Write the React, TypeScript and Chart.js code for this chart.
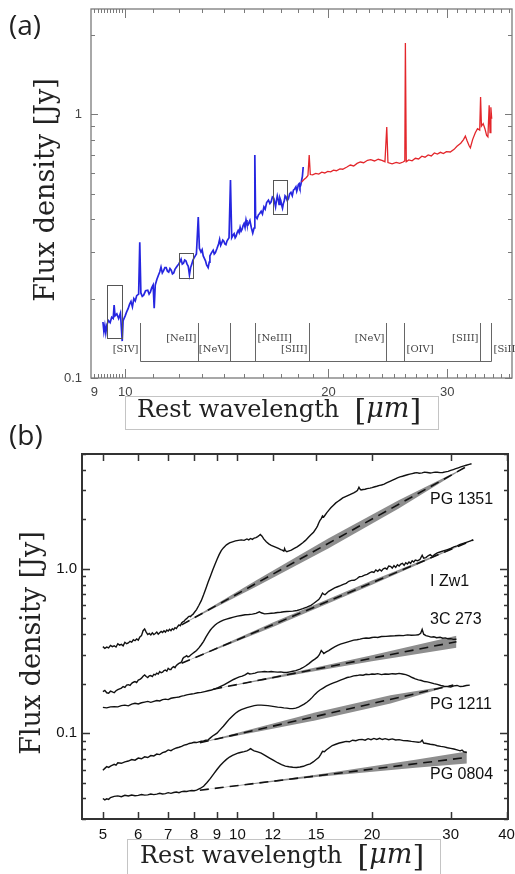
import React, { useEffect, useRef } from 'react';
import { Chart, registerables } from 'chart.js';
Chart.register(...registerables);

// ---------------- Panel (a) data ----------------
const aBlueWl = [9.27, 9.3, 9.33, 9.36, 9.4, 9.45, 9.5, 9.55, 9.6, 9.63, 9.66, 9.72, 9.78, 9.84, 9.9, 9.93, 10.0, 10.05, 10.1, 10.15, 10.2, 10.25, 10.3, 10.35, 10.4, 10.47, 10.51, 10.55, 10.6, 10.65, 10.72, 10.8, 10.85, 10.9, 10.95, 11.0, 11.04, 11.08, 11.14, 11.2, 11.25, 11.3, 11.35, 11.4, 11.45, 11.5, 11.55, 11.6, 11.65, 11.7, 11.75, 11.8, 11.85, 11.9, 11.95, 12.0, 12.05, 12.1, 12.15, 12.2, 12.25, 12.3, 12.35, 12.4, 12.45, 12.5, 12.55, 12.6, 12.65, 12.7, 12.75, 12.83, 12.88, 12.95, 13.0, 13.05, 13.1, 13.15, 13.2, 13.27, 13.32, 13.35, 13.42, 13.5, 13.55, 13.6, 13.68, 13.75, 13.8, 13.85, 13.9, 13.95, 14.0, 14.05, 14.1, 14.15, 14.2, 14.25, 14.32, 14.38, 14.45, 14.5, 14.55, 14.6, 14.65, 14.7, 14.75, 14.8, 14.85, 14.9, 14.95, 15.0, 15.05, 15.1, 15.15, 15.2, 15.25, 15.3, 15.38, 15.45, 15.52, 15.56, 15.6, 15.68, 15.75, 15.82, 15.9, 15.97, 16.05, 16.12, 16.2, 16.3, 16.38, 16.45, 16.52, 16.6, 16.65, 16.7, 16.75, 16.8, 16.85, 16.9, 16.95, 17.0, 17.05, 17.1, 17.15, 17.2, 17.25, 17.3, 17.38, 17.45, 17.52, 17.6, 17.68, 17.75, 17.82, 17.9, 17.95, 18.0, 18.05, 18.1, 18.15, 18.2, 18.25, 18.3, 18.35];
const aBlueFlux = [0.163, 0.15, 0.158, 0.148, 0.16, 0.165, 0.162, 0.17, 0.168, 0.189, 0.172, 0.175, 0.168, 0.176, 0.138, 0.165, 0.172, 0.178, 0.183, 0.19, 0.195, 0.186, 0.2, 0.196, 0.205, 0.208, 0.327, 0.21, 0.204, 0.206, 0.214, 0.215, 0.208, 0.212, 0.22, 0.225, 0.184, 0.225, 0.236, 0.245, 0.252, 0.263, 0.25, 0.255, 0.262, 0.262, 0.254, 0.252, 0.26, 0.256, 0.248, 0.25, 0.258, 0.262, 0.266, 0.27, 0.275, 0.282, 0.27, 0.272, 0.28, 0.278, 0.27, 0.265, 0.246, 0.262, 0.27, 0.28, 0.285, 0.29, 0.295, 0.407, 0.31, 0.3, 0.306, 0.29, 0.284, 0.278, 0.268, 0.262, 0.275, 0.29, 0.298, 0.305, 0.295, 0.298, 0.31, 0.322, 0.335, 0.318, 0.325, 0.333, 0.33, 0.322, 0.32, 0.33, 0.335, 0.34, 0.562, 0.34, 0.348, 0.352, 0.34, 0.345, 0.356, 0.362, 0.355, 0.372, 0.36, 0.366, 0.378, 0.385, 0.372, 0.397, 0.382, 0.38, 0.388, 0.395, 0.37, 0.354, 0.37, 0.7, 0.41, 0.402, 0.415, 0.42, 0.428, 0.418, 0.445, 0.436, 0.462, 0.472, 0.458, 0.465, 0.485, 0.48, 0.462, 0.445, 0.47, 0.49, 0.475, 0.455, 0.48, 0.47, 0.452, 0.44, 0.458, 0.468, 0.49, 0.485, 0.47, 0.478, 0.498, 0.505, 0.49, 0.515, 0.52, 0.53, 0.51, 0.522, 0.54, 0.545, 0.528, 0.538, 0.56, 0.58, 0.63];
const aRedWl = [18.25, 18.4, 18.55, 18.65, 18.73, 18.8, 18.95, 19.15, 19.35, 19.55, 19.75, 19.95, 20.15, 20.35, 20.55, 20.8, 21.0, 21.3, 21.55, 21.8, 22.05, 22.3, 22.55, 22.85, 23.1, 23.4, 23.7, 24.0, 24.25, 24.4, 24.5, 24.85, 25.2, 25.5, 25.8, 25.95, 26.0, 26.08, 26.3, 26.6, 26.9, 27.2, 27.5, 27.8, 28.1, 28.4, 28.7, 29.0, 29.3, 29.6, 29.9, 30.3, 30.7, 31.0, 31.4, 31.7, 31.9, 32.1, 32.3, 32.45, 32.7, 33.0, 33.25, 33.5, 33.6, 33.7, 33.9, 34.1, 34.3, 34.45, 34.6, 34.7, 34.8, 34.9];
const aRedFlux = [0.553, 0.565, 0.575, 0.585, 0.7, 0.59, 0.588, 0.596, 0.592, 0.602, 0.598, 0.606, 0.604, 0.613, 0.61, 0.62, 0.618, 0.63, 0.641, 0.636, 0.65, 0.658, 0.654, 0.668, 0.672, 0.664, 0.674, 0.668, 0.66, 0.893, 0.655, 0.648, 0.656, 0.65, 0.658, 0.665, 1.86, 0.66, 0.67, 0.665, 0.68, 0.676, 0.692, 0.686, 0.7, 0.694, 0.712, 0.705, 0.716, 0.708, 0.72, 0.718, 0.735, 0.755, 0.775, 0.8, 0.825, 0.79, 0.76, 0.745, 0.8, 0.85, 0.88, 0.87, 1.16, 0.9, 0.92, 0.88, 0.83, 0.82, 1.08, 0.85, 1.06, 0.96];
const aLineNames = ['[SIV]', '[NeII]', '[NeV]', '[NeIII]', '[SIII]', '[NeV]', '[OIV]', '[SIII]', '[SiII]'];
const aLineWl = [10.51, 12.81, 14.32, 15.56, 18.71, 24.32, 25.89, 33.48, 34.82];
const aLineSide = ['left', 'left', 'left', 'right', 'left', 'left', 'right', 'left', 'right'];
const aLineRow = [1, 0, 1, 0, 1, 0, 1, 0, 1];
const aBoxWl = [[9.4, 9.9], [12.02, 12.61], [16.57, 17.38]];
const aBoxFlux = [[0.142, 0.225], [0.239, 0.297], [0.418, 0.562]];
const aXTickVals = [9, 10, 20, 30];
const aXTickLabels = ['9', '10', '20', '30'];
const aXMajor = [10, 20, 30];
const aXMinor = [9, 9.1, 9.2, 9.3, 9.4, 9.5, 9.6, 9.7, 9.8, 9.9, 11, 12, 13, 14, 15, 16, 17, 18, 19, 21, 22, 23, 24, 25, 26, 27, 28, 29, 31, 32, 33, 34, 35, 36, 37];
const aYTickVals = [0.1, 1];
const aYTickLabels = ['0.1', '1'];
const aYMinor = [0.2, 0.3, 0.4, 0.5, 0.6, 0.7, 0.8, 0.9, 2];

// ---------------- Panel (b) data ----------------
const bNames = ['PG 1351', 'I Zw1', '3C 273', 'PG 1211', 'PG 0804'];
const pg1351Wl = [5.0, 5.05, 5.1, 5.15, 5.2, 5.25, 5.3, 5.35, 5.4, 5.45, 5.5, 5.55, 5.6, 5.65, 5.7, 5.75, 5.8, 5.85, 5.9, 5.95, 6.0, 6.05, 6.1, 6.15, 6.2, 6.25, 6.3, 6.35, 6.4, 6.45, 6.5, 6.55, 6.6, 6.65, 6.7, 6.75, 6.8, 6.85, 6.9, 6.95, 7.0, 7.05, 7.1, 7.15, 7.2, 7.25, 7.3, 7.35, 7.4, 7.45, 7.5, 7.55, 7.6, 7.65, 7.7, 7.75, 7.8, 7.85, 7.9, 7.95, 8.0, 8.1, 8.2, 8.3, 8.4, 8.5, 8.6, 8.7, 8.8, 8.9, 9.0, 9.1, 9.2, 9.3, 9.45, 9.6, 9.75, 9.9, 10.05, 10.2, 10.35, 10.5, 10.6, 10.7, 10.8, 10.9, 11.0, 11.1, 11.2, 11.25, 11.35, 11.45, 11.6, 11.75, 11.9, 12.05, 12.2, 12.35, 12.5, 12.6, 12.7, 12.75, 12.8, 12.9, 13.0, 13.2, 13.4, 13.6, 13.8, 14.0, 14.2, 14.4, 14.6, 14.8, 15.0, 15.1, 15.2, 15.3, 15.4, 15.5, 15.6, 15.7, 15.85, 16.0, 16.2, 16.4, 16.6, 16.8, 17.0, 17.2, 17.4, 17.6, 17.8, 18.0, 18.2, 18.4, 18.55, 18.7, 18.8, 18.9, 19.1, 19.3, 19.5, 19.8, 20.0, 20.3, 20.5, 20.8, 21.0, 21.3, 21.5, 21.8, 22.0, 22.3, 22.5, 22.8, 23.1, 23.4, 23.7, 24.0, 24.3, 24.6, 24.9, 25.2, 25.5, 25.9, 26.2, 26.6, 27.0, 27.3, 27.7, 28.0, 28.4, 28.8, 29.2, 29.6, 30.0, 30.4, 30.8, 31.2, 31.6, 32.0, 32.5, 33.0, 33.4];
const pg1351Flux = [0.336, 0.328, 0.334, 0.33, 0.342, 0.336, 0.34, 0.334, 0.35, 0.343, 0.347, 0.34, 0.357, 0.35, 0.354, 0.362, 0.358, 0.37, 0.365, 0.374, 0.368, 0.385, 0.392, 0.42, 0.43, 0.412, 0.398, 0.404, 0.396, 0.408, 0.398, 0.404, 0.412, 0.4, 0.408, 0.416, 0.41, 0.42, 0.412, 0.424, 0.418, 0.428, 0.42, 0.432, 0.426, 0.438, 0.433, 0.446, 0.455, 0.45, 0.468, 0.476, 0.48, 0.492, 0.497, 0.508, 0.515, 0.512, 0.522, 0.528, 0.54, 0.565, 0.6, 0.64, 0.695, 0.76, 0.83, 0.9, 0.98, 1.06, 1.14, 1.22, 1.29, 1.34, 1.4, 1.44, 1.46, 1.48, 1.49, 1.5, 1.49, 1.52, 1.5, 1.53, 1.51, 1.54, 1.55, 1.57, 1.6, 1.62, 1.58, 1.52, 1.46, 1.42, 1.39, 1.37, 1.35, 1.33, 1.31, 1.3, 1.28, 1.33, 1.29, 1.27, 1.28, 1.3, 1.33, 1.36, 1.4, 1.44, 1.49, 1.55, 1.61, 1.67, 1.76, 1.82, 1.9, 1.97, 2.02, 2.1, 2.07, 2.12, 2.2, 2.27, 2.36, 2.44, 2.52, 2.58, 2.64, 2.7, 2.74, 2.78, 2.82, 2.86, 2.9, 2.95, 3.0, 3.14, 3.06, 3.02, 3.04, 3.05, 3.08, 3.1, 3.12, 3.16, 3.18, 3.22, 3.24, 3.28, 3.32, 3.38, 3.42, 3.48, 3.52, 3.58, 3.63, 3.66, 3.7, 3.74, 3.77, 3.8, 3.83, 3.85, 3.82, 3.84, 3.88, 3.86, 3.83, 3.85, 3.88, 3.87, 3.85, 3.86, 3.89, 3.92, 3.97, 4.02, 4.07, 4.12, 4.17, 4.22, 4.27, 4.32, 4.36];
const izw1Wl = [5.0, 5.05, 5.1, 5.15, 5.2, 5.25, 5.3, 5.35, 5.4, 5.45, 5.5, 5.55, 5.6, 5.65, 5.7, 5.75, 5.8, 5.85, 5.9, 5.95, 6.0, 6.05, 6.1, 6.15, 6.2, 6.25, 6.3, 6.35, 6.4, 6.45, 6.5, 6.55, 6.6, 6.65, 6.7, 6.75, 6.8, 6.85, 6.9, 6.95, 7.0, 7.05, 7.1, 7.15, 7.2, 7.25, 7.3, 7.35, 7.4, 7.45, 7.5, 7.55, 7.6, 7.65, 7.7, 7.75, 7.8, 7.85, 7.9, 7.95, 8.0, 8.1, 8.2, 8.3, 8.4, 8.5, 8.6, 8.7, 8.8, 8.9, 9.0, 9.15, 9.3, 9.45, 9.6, 9.8, 10.0, 10.2, 10.4, 10.6, 10.8, 11.0, 11.2, 11.3, 11.5, 11.7, 11.9, 12.1, 12.3, 12.5, 12.7, 12.9, 13.1, 13.3, 13.6, 13.8, 14.0, 14.3, 14.6, 14.8, 15.0, 15.2, 15.35, 15.5, 15.6, 15.7, 15.85, 16.0, 16.25, 16.5, 16.75, 17.0, 17.25, 17.5, 17.75, 18.0, 18.25, 18.5, 18.75, 19.0, 19.25, 19.5, 19.75, 20.0, 20.2, 20.4, 20.6, 20.8, 21.0, 21.2, 21.4, 21.6, 21.8, 22.0, 22.2, 22.4, 22.6, 22.8, 23.0, 23.2, 23.4, 23.6, 23.8, 24.0, 24.2, 24.4, 24.6, 24.8, 25.0, 25.3, 25.6, 25.9, 26.1, 26.4, 26.7, 27.0, 27.3, 27.6, 28.0, 28.5, 29.0, 29.5, 30.0, 30.5, 31.0, 31.5, 32.0, 32.5, 33.0, 33.7];
const izw1Flux = [0.179, 0.182, 0.176, 0.175, 0.18, 0.178, 0.176, 0.181, 0.184, 0.186, 0.188, 0.192, 0.19, 0.196, 0.197, 0.195, 0.201, 0.204, 0.206, 0.203, 0.21, 0.212, 0.216, 0.222, 0.226, 0.221, 0.218, 0.223, 0.224, 0.221, 0.228, 0.226, 0.232, 0.229, 0.237, 0.233, 0.235, 0.24, 0.242, 0.238, 0.248, 0.244, 0.244, 0.251, 0.254, 0.25, 0.258, 0.262, 0.266, 0.268, 0.272, 0.285, 0.29, 0.292, 0.296, 0.291, 0.293, 0.298, 0.302, 0.306, 0.31, 0.318, 0.33, 0.345, 0.362, 0.384, 0.405, 0.424, 0.44, 0.453, 0.465, 0.477, 0.487, 0.494, 0.5, 0.508, 0.515, 0.52, 0.525, 0.527, 0.53, 0.536, 0.548, 0.54, 0.532, 0.534, 0.536, 0.538, 0.542, 0.544, 0.548, 0.55, 0.551, 0.553, 0.558, 0.565, 0.572, 0.585, 0.6, 0.615, 0.632, 0.65, 0.675, 0.712, 0.7, 0.695, 0.712, 0.73, 0.748, 0.765, 0.778, 0.79, 0.805, 0.815, 0.84, 0.85, 0.852, 0.87, 0.895, 0.9, 0.915, 0.925, 0.945, 0.96, 0.95, 0.985, 0.965, 0.99, 0.97, 1.0, 1.01, 0.995, 1.04, 1.035, 1.01, 1.045, 1.02, 1.06, 1.04, 1.07, 1.08, 1.05, 1.09, 1.07, 1.1, 1.08, 1.12, 1.1, 1.13, 1.12, 1.14, 1.21, 1.16, 1.17, 1.2, 1.22, 1.19, 1.22, 1.25, 1.27, 1.29, 1.31, 1.33, 1.36, 1.38, 1.41, 1.43, 1.45, 1.47, 1.5];
const c273Wl = [5.0, 5.1, 5.2, 5.3, 5.4, 5.5, 5.6, 5.7, 5.8, 5.9, 6.0, 6.1, 6.2, 6.3, 6.4, 6.5, 6.6, 6.7, 6.8, 6.9, 7.0, 7.1, 7.2, 7.3, 7.4, 7.5, 7.6, 7.7, 7.8, 7.9, 8.0, 8.15, 8.3, 8.45, 8.6, 8.75, 8.9, 9.05, 9.2, 9.35, 9.5, 9.65, 9.8, 9.95, 10.1, 10.25, 10.4, 10.55, 10.65, 10.8, 10.95, 11.1, 11.3, 11.5, 11.7, 11.9, 12.1, 12.3, 12.5, 12.7, 12.9, 13.1, 13.3, 13.5, 13.8, 14.0, 14.2, 14.45, 14.7, 14.9, 15.1, 15.25, 15.4, 15.5, 15.6, 15.8, 16.0, 16.25, 16.5, 16.75, 17.0, 17.3, 17.6, 17.9, 18.2, 18.5, 18.8, 19.1, 19.4, 19.7, 20.0, 20.3, 20.6, 21.0, 21.5, 22.0, 22.5, 23.0, 23.5, 24.0, 24.5, 25.0, 25.4, 25.7, 25.9, 26.1, 26.4, 26.8, 27.1, 27.5, 27.9, 28.4, 28.8, 29.2, 29.6, 30.0, 30.4, 30.9];
const c273Flux = [0.1435, 0.1425, 0.1445, 0.145, 0.1445, 0.147, 0.148, 0.1465, 0.15, 0.152, 0.1505, 0.153, 0.1545, 0.156, 0.154, 0.156, 0.158, 0.157, 0.16, 0.161, 0.16, 0.163, 0.164, 0.165, 0.166, 0.168, 0.169, 0.171, 0.172, 0.173, 0.174, 0.176, 0.177, 0.179, 0.181, 0.183, 0.186, 0.189, 0.193, 0.197, 0.202, 0.207, 0.212, 0.216, 0.22, 0.222, 0.226, 0.232, 0.229, 0.23, 0.232, 0.235, 0.236, 0.237, 0.236, 0.237, 0.236, 0.235, 0.236, 0.234, 0.234, 0.236, 0.238, 0.24, 0.245, 0.25, 0.256, 0.265, 0.275, 0.282, 0.29, 0.3, 0.318, 0.312, 0.305, 0.312, 0.318, 0.327, 0.335, 0.342, 0.348, 0.353, 0.358, 0.363, 0.368, 0.37, 0.373, 0.377, 0.379, 0.378, 0.382, 0.384, 0.382, 0.387, 0.388, 0.39, 0.391, 0.393, 0.392, 0.396, 0.394, 0.395, 0.397, 0.405, 0.428, 0.4, 0.392, 0.388, 0.384, 0.386, 0.381, 0.383, 0.378, 0.38, 0.375, 0.376, 0.372, 0.373];
const pg1211Wl = [5.0, 5.05, 5.1, 5.15, 5.2, 5.3, 5.35, 5.4, 5.5, 5.6, 5.7, 5.8, 5.9, 6.0, 6.1, 6.2, 6.3, 6.4, 6.5, 6.6, 6.7, 6.8, 6.9, 7.0, 7.1, 7.2, 7.3, 7.4, 7.5, 7.6, 7.7, 7.8, 7.9, 8.0, 8.1, 8.2, 8.3, 8.4, 8.5, 8.6, 8.7, 8.8, 8.9, 9.0, 9.15, 9.3, 9.45, 9.6, 9.75, 9.9, 10.05, 10.2, 10.35, 10.5, 10.7, 10.9, 11.1, 11.3, 11.5, 11.7, 11.9, 12.1, 12.3, 12.5, 12.7, 12.9, 13.1, 13.3, 13.5, 13.7, 13.9, 14.1, 14.3, 14.5, 14.7, 14.9, 15.1, 15.3, 15.55, 15.8, 16.1, 16.4, 16.7, 17.0, 17.3, 17.6, 17.9, 18.2, 18.5, 18.8, 19.1, 19.4, 19.7, 20.0, 20.3, 20.6, 21.0, 21.4, 21.8, 22.2, 22.6, 23.0, 23.4, 23.8, 24.2, 24.6, 25.0, 25.4, 25.8, 26.2, 26.6, 27.0, 27.5, 28.0, 28.5, 29.0, 29.5, 30.0, 30.5, 31.0, 31.5, 32.0, 32.5, 33.1];
const pg1211Flux = [0.0595, 0.061, 0.0625, 0.0618, 0.063, 0.0645, 0.0638, 0.066, 0.0655, 0.0668, 0.0676, 0.069, 0.0684, 0.0705, 0.0698, 0.0717, 0.071, 0.073, 0.0726, 0.0745, 0.074, 0.076, 0.077, 0.079, 0.0782, 0.08, 0.0812, 0.082, 0.083, 0.0845, 0.0852, 0.0865, 0.087, 0.088, 0.0876, 0.0885, 0.0892, 0.0895, 0.0905, 0.091, 0.0935, 0.096, 0.098, 0.1, 0.105, 0.11, 0.116, 0.122, 0.127, 0.132, 0.136, 0.139, 0.141, 0.143, 0.145, 0.147, 0.148, 0.148, 0.1475, 0.147, 0.146, 0.145, 0.144, 0.1435, 0.1425, 0.142, 0.141, 0.141, 0.142, 0.144, 0.147, 0.15, 0.154, 0.159, 0.165, 0.172, 0.178, 0.183, 0.188, 0.193, 0.198, 0.202, 0.206, 0.21, 0.214, 0.218, 0.22, 0.223, 0.224, 0.226, 0.225, 0.228, 0.227, 0.229, 0.228, 0.23, 0.227, 0.229, 0.228, 0.23, 0.229, 0.231, 0.229, 0.227, 0.223, 0.218, 0.214, 0.211, 0.209, 0.206, 0.205, 0.203, 0.2, 0.198, 0.195, 0.193, 0.192, 0.191, 0.194, 0.195, 0.192, 0.193, 0.195, 0.196];
const pg0804Wl = [5.0, 5.05, 5.1, 5.15, 5.2, 5.3, 5.4, 5.5, 5.6, 5.7, 5.8, 5.9, 6.0, 6.1, 6.2, 6.3, 6.4, 6.5, 6.6, 6.7, 6.8, 6.9, 7.0, 7.1, 7.2, 7.3, 7.4, 7.5, 7.6, 7.7, 7.8, 7.9, 8.0, 8.1, 8.25, 8.4, 8.55, 8.7, 8.85, 9.0, 9.15, 9.3, 9.45, 9.6, 9.75, 9.9, 10.05, 10.2, 10.35, 10.5, 10.6, 10.7, 10.8, 10.9, 11.1, 11.3, 11.55, 11.8, 12.05, 12.3, 12.55, 12.8, 13.05, 13.3, 13.55, 13.8, 14.05, 14.3, 14.55, 14.8, 15.0, 15.2, 15.35, 15.5, 15.65, 15.8, 16.05, 16.3, 16.6, 16.9, 17.2, 17.5, 17.8, 18.1, 18.4, 18.7, 19.0, 19.3, 19.6, 19.9, 20.2, 20.5, 20.8, 21.1, 21.4, 21.8, 22.2, 22.6, 23.0, 23.5, 24.0, 24.5, 25.0, 25.4, 25.7, 25.9, 26.1, 26.5, 27.0, 27.5, 28.0, 28.5, 29.0, 29.5, 30.0, 30.5, 31.0, 31.5, 31.8, 32.1, 32.6];
const pg0804Flux = [0.04, 0.0392, 0.0398, 0.0395, 0.0405, 0.0412, 0.0415, 0.041, 0.0418, 0.0414, 0.042, 0.0416, 0.0418, 0.0423, 0.0419, 0.0421, 0.0426, 0.0422, 0.0425, 0.043, 0.0426, 0.0428, 0.0434, 0.043, 0.0435, 0.0438, 0.0434, 0.044, 0.0443, 0.0441, 0.0445, 0.0447, 0.0446, 0.045, 0.046, 0.0475, 0.05, 0.053, 0.0565, 0.06, 0.0635, 0.0665, 0.0692, 0.0715, 0.0732, 0.0745, 0.0757, 0.0765, 0.0772, 0.078, 0.079, 0.0805, 0.079, 0.078, 0.0768, 0.0755, 0.073, 0.0705, 0.0682, 0.066, 0.0643, 0.063, 0.0624, 0.062, 0.0618, 0.0622, 0.0628, 0.064, 0.065, 0.067, 0.069, 0.071, 0.074, 0.0775, 0.077, 0.079, 0.0815, 0.084, 0.0855, 0.087, 0.088, 0.089, 0.0885, 0.0905, 0.0898, 0.0912, 0.0915, 0.0905, 0.0925, 0.0912, 0.0928, 0.0915, 0.093, 0.0914, 0.0925, 0.0912, 0.0922, 0.0908, 0.0912, 0.09, 0.0898, 0.089, 0.0884, 0.088, 0.0885, 0.0905, 0.087, 0.0865, 0.0855, 0.085, 0.0838, 0.083, 0.0825, 0.0815, 0.0808, 0.08, 0.079, 0.078, 0.0788, 0.077, 0.0762];
const bSpecWl = [pg1351Wl, izw1Wl, c273Wl, pg1211Wl, pg0804Wl];
const bSpecFlux = [pg1351Flux, izw1Flux, c273Flux, pg1211Flux, pg0804Flux];
// continuum fits (power laws, two end points each)
const bContWl = [[7.5, 32.6], [7.5, 33.7], [8.83, 30.9], [8.24, 30.4], [8.24, 32.6]];
const bContFlux = [[0.456, 4.2], [0.266, 1.5], [0.185, 0.36], [0.0873, 0.196], [0.0449, 0.0711]];
// uncertainty bands around the continuum
const bBandWl = [[7.5, 11, 16, 23, 32.6], [7.5, 12, 20, 33.7], [8.83, 14, 20, 30.9], [8.24, 11, 15, 22, 30.4], [8.24, 15, 25, 32.6]];
const bBandHi = [[0.456, 0.848, 1.537, 2.62, 4.2], [0.266, 0.471, 0.848, 1.5], [0.185, 0.241, 0.298, 0.392], [0.0873, 0.1074, 0.1338, 0.1697, 0.196], [0.0449, 0.0557, 0.0689, 0.0774]];
const bBandLo = [[0.456, 0.779, 1.335, 2.34, 4.2], [0.266, 0.443, 0.799, 1.5], [0.185, 0.231, 0.274, 0.331], [0.0873, 0.1015, 0.1196, 0.1516, 0.196], [0.0449, 0.0541, 0.0615, 0.0653]];
const bXTickVals = [5, 6, 7, 8, 9, 10, 12, 15, 20, 30, 40];
const bXTickLabels = ['5', '6', '7', '8', '9', '10', '12', '15', '20', '30', '40'];
const bYTickVals = [0.1, 1];
const bYTickLabels = ['0.1', '1.0'];
const bYMinor = [0.03, 0.04, 0.05, 0.06, 0.07, 0.08, 0.09, 0.2, 0.3, 0.4, 0.5, 0.6, 0.7, 0.8, 0.9, 2, 3, 4, 5];

const pts = (wl: number[], f: number[]) => wl.map((w, i) => ({ x: w, y: f[i] }));

const SERIF = '"DejaVu Serif"';

function drawFrame(chart: any, c: any) {
  const { ctx, chartArea: a, scales } = chart;
  const x = scales.x, y = scales.y;
  ctx.save();
  ctx.strokeStyle = c.color;
  ctx.lineWidth = c.tickWidth;
  ctx.beginPath();
  const seg = (x1: number, y1: number, x2: number, y2: number) => { ctx.moveTo(x1, y1); ctx.lineTo(x2, y2); };
  const xt = (v: number, len: number) => {
    const p = Math.round(x.getPixelForValue(v)) + 0.5;
    seg(p, a.bottom, p, a.bottom - len);
    seg(p, a.top, p, a.top + len);
  };
  const yt = (v: number, len: number) => {
    const p = Math.round(y.getPixelForValue(v)) + 0.5;
    seg(a.left, p, a.left + len, p);
    seg(a.right, p, a.right - len, p);
  };
  c.xMajor.forEach((v: number) => xt(v, c.xMajLen));
  c.xMinor.forEach((v: number) => xt(v, c.xMinLen));
  c.yMajor.forEach((v: number) => yt(v, c.yMajLen));
  c.yMinor.forEach((v: number) => yt(v, c.yMinLen));
  ctx.stroke();
  ctx.lineWidth = c.frameWidth;
  ctx.strokeRect(a.left, a.top, a.right - a.left, a.bottom - a.top);
  ctx.fillStyle = c.labelColor;
  ctx.font = c.labelFont;
  ctx.textAlign = 'center';
  ctx.textBaseline = 'middle';
  c.xLabelVals.forEach((v: number, i: number) => ctx.fillText(c.xLabels[i], x.getPixelForValue(v), a.bottom + c.xLabelOff));
  ctx.textAlign = 'right';
  c.yLabelVals.forEach((v: number, i: number) => ctx.fillText(c.yLabels[i], a.left - c.yLabelOff, y.getPixelForValue(v)));
  ctx.restore();
}

function drawXTitle(ctx: any, box: number[], startX: number, baseY: number) {
  ctx.save();
  ctx.strokeStyle = '#c4c4c4';
  ctx.lineWidth = 1;
  ctx.strokeRect(box[0] + 0.5, box[1] + 0.5, box[2] - box[0], box[3] - box[1]);
  const parts = [
    { t: 'Rest wavelength', f: `24px ${SERIF}` },
    { t: '  ', f: `24px ${SERIF}` },
    { t: '[', f: `30px ${SERIF}` },
    { t: 'μm', f: `italic 27px ${SERIF}` },
    { t: ']', f: `30px ${SERIF}` },
  ];
  ctx.fillStyle = '#222';
  ctx.textAlign = 'left';
  ctx.textBaseline = 'alphabetic';
  let xx = startX;
  parts.forEach((p) => {
    ctx.font = p.f;
    ctx.fillText(p.t, xx, baseY + (p.t === '[' || p.t === ']' ? 3 : 0));
    xx += ctx.measureText(p.t).width;
  });
  ctx.restore();
}

function drawYTitle(ctx: any, cx: number, cy: number) {
  ctx.save();
  ctx.translate(cx, cy);
  ctx.rotate(-Math.PI / 2);
  ctx.fillStyle = '#222';
  ctx.font = `27px ${SERIF}`;
  ctx.textAlign = 'center';
  ctx.textBaseline = 'middle';
  ctx.fillText('Flux density [Jy]', 0, 0);
  ctx.restore();
}

function drawPanelLabel(ctx: any, t: string, x: number, y: number) {
  ctx.save();
  ctx.fillStyle = '#222';
  ctx.font = '28px "Open Sans"';
  ctx.textAlign = 'left';
  ctx.textBaseline = 'middle';
  ctx.fillText(t, x, y);
  ctx.restore();
}

const panelAPlugin = {
  id: 'panelA',
  afterDraw(chart: any) {
    const { ctx, chartArea: a, scales } = chart;
    const xs = scales.x, ys = scales.y;
    ctx.save();
    // highlight boxes
    ctx.strokeStyle = '#555';
    ctx.lineWidth = 1;
    aBoxWl.forEach((b, i) => {
      const x0 = Math.round(xs.getPixelForValue(b[0])) + 0.5;
      const x1 = Math.round(xs.getPixelForValue(b[1])) + 0.5;
      const y0 = Math.round(ys.getPixelForValue(aBoxFlux[i][1])) + 0.5;
      const y1 = Math.round(ys.getPixelForValue(aBoxFlux[i][0])) + 0.5;
      ctx.strokeRect(x0, y0, x1 - x0, y1 - y0);
    });
    // line identification markers
    const topY = a.bottom - 55, baseY = a.bottom - 16.5;
    ctx.strokeStyle = '#666';
    ctx.beginPath();
    const px = aLineWl.map((w) => Math.round(xs.getPixelForValue(w)) + 0.5);
    px.forEach((p) => { ctx.moveTo(p, topY); ctx.lineTo(p, baseY); });
    ctx.moveTo(px[0], baseY); ctx.lineTo(px[px.length - 1], baseY);
    ctx.stroke();
    ctx.fillStyle = '#444';
    ctx.font = `10px ${SERIF}`;
    ctx.textBaseline = 'middle';
    aLineNames.forEach((n, i) => {
      const yy = aLineRow[i] === 0 ? a.bottom - 40 : a.bottom - 29;
      if (aLineSide[i] === 'left') { ctx.textAlign = 'right'; ctx.fillText(n, px[i] - 2, yy); }
      else { ctx.textAlign = 'left'; ctx.fillText(n, px[i] + 2, yy); }
    });
    ctx.restore();
    drawFrame(chart, {
      color: '#7a7a7a', tickWidth: 1, frameWidth: 1.3,
      xMajor: aXMajor, xMinor: aXMinor, yMajor: aYTickVals, yMinor: aYMinor,
      xMajLen: 9, xMinLen: 4, yMajLen: 7, yMinLen: 4,
      labelColor: '#444', labelFont: '13px "Liberation Sans"',
      xLabelVals: aXTickVals, xLabels: aXTickLabels, xLabelOff: 14,
      yLabelVals: aYTickVals, yLabels: aYTickLabels, yLabelOff: 9,
    });
    drawXTitle(ctx, [125, 396, 438, 429], 137, 417);
    drawYTitle(ctx, 47, 190);
    drawPanelLabel(ctx, '(a)', 9, 27);
  },
};

const panelBPlugin = {
  id: 'panelB',
  afterDraw(chart: any) {
    const { ctx } = chart;
    drawFrame(chart, {
      color: '#333', tickWidth: 1.5, frameWidth: 2,
      xMajor: bXTickVals, xMinor: [], yMajor: bYTickVals, yMinor: bYMinor,
      xMajLen: 7, xMinLen: 4, yMajLen: 8, yMinLen: 4,
      labelColor: '#111', labelFont: '15px "Liberation Sans"',
      xLabelVals: bXTickVals, xLabels: bXTickLabels, xLabelOff: 16,
      yLabelVals: bYTickVals, yLabels: bYTickLabels, yLabelOff: 5,
    });
    ctx.save();
    ctx.fillStyle = '#111';
    ctx.font = '16px "Liberation Sans"';
    ctx.textAlign = 'left';
    ctx.textBaseline = 'middle';
    const ly = [85, 167, 205, 290, 360];
    bNames.forEach((n, i) => ctx.fillText(n, 430, ly[i]));
    ctx.restore();
    drawXTitle(ctx, [127, 424, 440, 470], 140, 448);
    drawYTitle(ctx, 33, 228);
    drawPanelLabel(ctx, '(b)', 9, 22);
  },
};

export default function App() {
  const refA = useRef<HTMLCanvasElement>(null);
  const refB = useRef<HTMLCanvasElement>(null);

  useEffect(() => {
    const chartA = new Chart(refA.current as HTMLCanvasElement, {
      type: 'line',
      data: {
        datasets: [
          { data: pts(aRedWl, aRedFlux), borderColor: '#e3262b', borderWidth: 1.3, pointRadius: 0, fill: false },
          { data: pts(aBlueWl, aBlueFlux), borderColor: '#2626e0', borderWidth: 1.7, pointRadius: 0, fill: false },
        ],
      },
      options: {
        animation: false,
        responsive: false,
        maintainAspectRatio: false,
        layout: { padding: { left: 91, top: 9, right: 3, bottom: 58 }, autoPadding: false },
        plugins: { legend: { display: false }, tooltip: { enabled: false } },
        elements: { line: { tension: 0 }, point: { radius: 0 } },
        scales: {
          x: { type: 'logarithmic', min: 8.9, max: 37.4, display: false },
          y: { type: 'logarithmic', min: 0.1, max: 2.5, display: false },
        },
      } as any,
      plugins: [panelAPlugin],
    });

    const datasets: any[] = [];
    bSpecWl.forEach((wl, i) => {
      datasets.push({ data: pts(wl, bSpecFlux[i]), borderColor: '#111', borderWidth: 1.4, pointRadius: 0, fill: false });
    });
    bContWl.forEach((wl, i) => {
      datasets.push({ data: pts(wl, bContFlux[i]), borderColor: '#111', borderWidth: 1.6, borderDash: [9, 6], pointRadius: 0, fill: false });
    });
    bBandWl.forEach((wl, i) => {
      datasets.push({ data: pts(wl, bBandHi[i]), borderColor: 'rgba(0,0,0,0)', borderWidth: 0, pointRadius: 0, fill: false });
      datasets.push({ data: pts(wl, bBandLo[i]), borderColor: 'rgba(0,0,0,0)', borderWidth: 0, pointRadius: 0, fill: '-1', backgroundColor: '#8e8e8e' });
    });

    const chartB = new Chart(refB.current as HTMLCanvasElement, {
      type: 'line',
      data: { datasets },
      options: {
        animation: false,
        responsive: false,
        maintainAspectRatio: false,
        layout: { padding: { left: 82, top: 39, right: 7, bottom: 55 }, autoPadding: false },
        plugins: { legend: { display: false }, tooltip: { enabled: false } },
        elements: { line: { tension: 0 }, point: { radius: 0 } },
        scales: {
          x: { type: 'logarithmic', min: 4.49, max: 40.3, display: false },
          y: { type: 'logarithmic', min: 0.03, max: 5.0, display: false },
        },
      } as any,
      plugins: [panelBPlugin],
    });

    return () => { chartA.destroy(); chartB.destroy(); };
  }, []);

  return (
    <div style={{ position: 'absolute', left: 0, top: 0, width: 515, height: 874, background: '#fff' }}>
      <canvas ref={refA} width={515} height={436} style={{ position: 'absolute', left: 0, top: 0, display: 'block' }} />
      <canvas ref={refB} width={515} height={459} style={{ position: 'absolute', left: 0, top: 415, display: 'block' }} />
    </div>
  );
}
